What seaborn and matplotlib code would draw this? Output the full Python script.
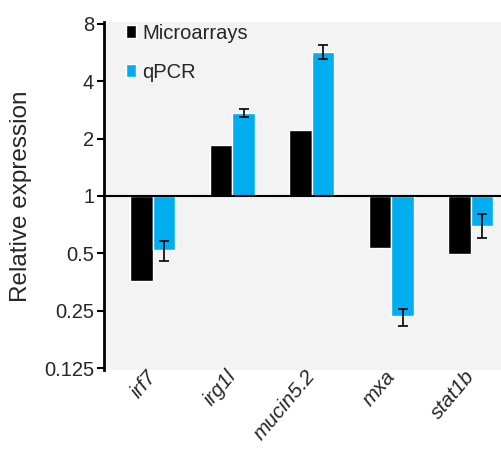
import numpy as np
import pandas as pd
import matplotlib
matplotlib.use("Agg")
import matplotlib.pyplot as plt
import matplotlib.transforms as mtransforms
import seaborn as sns

# values (linear fold change, log2 axis)
genes = ["irf7", "irg1l", "mucin5.2", "mxa", "stat1b"]
microarrays = [0.36, 1.84, 2.22, 0.534, 0.497]
qpcr = [0.52, 2.72, 5.67, 0.235, 0.70]
qpcr_err_lo = [0.456, 2.59, 5.2, 0.209, 0.60]
qpcr_err_hi = [0.58, 2.86, 6.2, 0.257, 0.80]
tick_values = [0.125, 0.25, 0.5, 1, 2, 4, 8]
tick_labels = ["0.125", "0.25", "0.5", "1", "2", "4", "8"]

df = pd.DataFrame({
    "gene": genes * 2,
    "method": ["Microarrays"] * len(genes) + ["qPCR"] * len(genes),
    "value": microarrays + qpcr,
})
df["log2"] = np.log2(df["value"])

sns.set_theme(style="white")
plt.rcParams["font.family"] = ["Liberation Sans", "DejaVu Sans"]

fig = plt.figure(figsize=(5.02, 4.49), dpi=100)
ax = fig.add_axes([0.207, 0.176, 0.793, 0.775])
ax.set_facecolor("#f3f3f3")

sns.barplot(data=df, x="gene", y="log2", hue="method",
            palette=["#000000", "#00aeef"], width=0.566, gap=0,
            saturation=1, ax=ax)

# error bars on the qPCR bars
lo = np.log2(qpcr) - np.log2(qpcr_err_lo)
hi = np.log2(qpcr_err_hi) - np.log2(qpcr)
xs = [b.get_x() + b.get_width() / 2 for b in ax.containers[1]]
ax.errorbar(xs, np.log2(qpcr), yerr=[lo, hi], fmt="none", ecolor="black",
            elinewidth=1.2, capsize=3.5, capthick=1.2)

ax.axhline(0, color="black", lw=1.5)

ax.set_xlim(-0.616, 4.39)
ax.set_ylim(-3.03, 3.03)
ax.set_yticks(np.log2(tick_values))
ax.set_yticklabels(tick_labels, fontsize=14.5)
ax.set_xticks(range(len(genes)))
ax.set_xticklabels(genes, fontsize=15, rotation=50, style="italic",
                   ha="right", va="center", rotation_mode="anchor")
offset = mtransforms.ScaledTranslation(0.17, -0.05, fig.dpi_scale_trans)
for lab in ax.get_xticklabels():
    lab.set_transform(lab.get_transform() + offset)
ax.tick_params(axis="x", length=0, pad=2)
ax.tick_params(axis="y", length=5, width=1.5, color="black", pad=2, left=True)
ax.set_xlabel("")
ax.set_ylabel("Relative expression", fontsize=17.5, labelpad=9)

for s in ["top", "right", "bottom"]:
    ax.spines[s].set_visible(False)
ax.spines["left"].set_color("black")
ax.spines["left"].set_linewidth(2)

ax.legend(loc="upper left", bbox_to_anchor=(0.056, 0.995), frameon=False,
          fontsize=14.5, handlelength=0.5, handleheight=0.6, handletextpad=0.3,
          labelspacing=1.0, borderpad=0, borderaxespad=0)

fig.savefig("out.png", dpi=100)
